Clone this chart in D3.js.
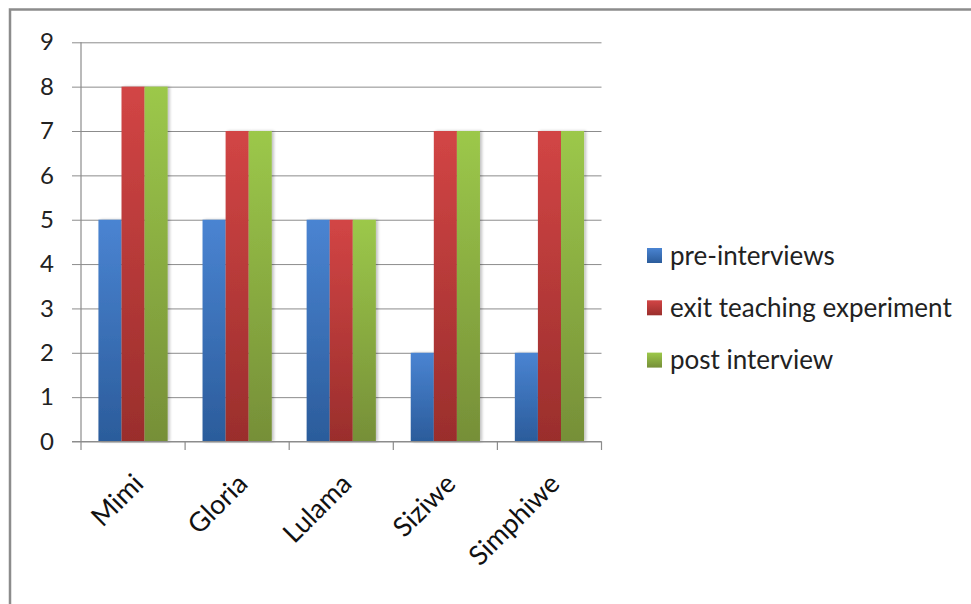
<!DOCTYPE html>
<html><head><meta charset="utf-8">
<script src="https://cdn.jsdelivr.net/npm/d3@7"></script>
<style>body{margin:0;background:#fff;}svg{display:block;}</style>
</head><body>
<svg id="chart" width="971" height="604"></svg>
<script>
const categories = ["Mimi", "Gloria", "Lulama", "Siziwe", "Simphiwe"];
const seriesNames = ["pre-interviews", "exit teaching experiment", "post interview"];
const preInterviews = [5, 5, 5, 2, 2];
const exitTeaching = [8, 7, 5, 7, 7];
const postInterview = [8, 7, 5, 7, 7];
const yTicks = [0, 1, 2, 3, 4, 5, 6, 7, 8, 9];
const colorsTop = ["#4a84d2", "#d24545", "#9cc84a"];
const colorsBottom = ["#2b5c9b", "#9a2e2c", "#768f38"];

const seriesValues = [preInterviews, exitTeaching, postInterview];
const svg = d3.select("#chart");
const font = "Lato, 'Open Sans', sans-serif";

// outer border
svg.append("rect").attr("x", 10).attr("y", 9.5).attr("width", 980).attr("height", 620)
  .attr("fill", "none").attr("stroke", "#8c8c8c").attr("stroke-width", 2.5);

const x0 = 81, x1 = 601.5, yBase = 441.5, yTop = 42.3;
const x = d3.scaleBand().domain(categories).range([x0, x1]).paddingInner(0.335).paddingOuter(0.1675);
const xs = d3.scaleBand().domain(seriesNames).range([0, x.bandwidth()]);
const y = d3.scaleLinear().domain([0, 9]).range([yBase, yTop]);

const defs = svg.append("defs");
seriesNames.forEach((s, i) => {
  const g = defs.append("linearGradient").attr("id", "g" + i).attr("x1", 0).attr("y1", 0).attr("x2", 0).attr("y2", 1);
  g.append("stop").attr("offset", "0%").attr("stop-color", colorsTop[i]);
  g.append("stop").attr("offset", "100%").attr("stop-color", colorsBottom[i]);
});
defs.append("filter").attr("id", "sh").attr("x", "-20%").attr("y", "-5%").attr("width", "150%").attr("height", "110%")
  .html('<feGaussianBlur in="SourceAlpha" stdDeviation="1.5"/><feOffset dx="2" dy="0" result="b"/><feComponentTransfer><feFuncA type="linear" slope="0.25"/></feComponentTransfer><feMerge><feMergeNode/><feMergeNode in="SourceGraphic"/></feMerge>');

// gridlines
const yAxis = d3.axisLeft(y).tickValues(yTicks).tickSize(-(x1 - x0)).tickPadding(27).tickFormat(d3.format("d"));
const ga = svg.append("g").attr("transform", `translate(${x0},0)`).call(yAxis);
ga.select(".domain").remove();
ga.selectAll(".tick line").attr("stroke", "#8c8c8c").attr("stroke-width", 1).attr("x1", -9).attr("x2", x1 - x0);
ga.selectAll(".tick text").attr("font-family", font).attr("font-size", 24).attr("fill", "#222");

// y axis line
svg.append("line").attr("x1", x0).attr("x2", x0).attr("y1", yTop).attr("y2", yBase)
  .attr("stroke", "#8c8c8c").attr("stroke-width", 1.2);

// bars
seriesNames.forEach((s, i) => {
  svg.append("g").selectAll("rect").data(categories).join("rect")
    .attr("x", c => x(c) + xs(s))
    .attr("y", (c, j) => y(seriesValues[i][j]))
    .attr("width", xs.bandwidth())
    .attr("height", (c, j) => yBase - y(seriesValues[i][j]))
    .attr("fill", `url(#g${i})`)
    .attr("filter", "url(#sh)");
});

// x axis
const xAxisLine = svg.append("g");
xAxisLine.append("line").attr("x1", x0 - 9).attr("x2", x1).attr("y1", yBase).attr("y2", yBase)
  .attr("stroke", "#8c8c8c").attr("stroke-width", 1.2);
const boundaries = categories.map(c => x(c) - x.step() * x.paddingInner() / 2).concat([x1]);
xAxisLine.selectAll("line.t").data(boundaries).join("line").attr("class", "t")
  .attr("x1", d => d).attr("x2", d => d).attr("y1", yBase).attr("y2", yBase + 8.5)
  .attr("stroke", "#8c8c8c").attr("stroke-width", 1.2);

svg.append("g").selectAll("text").data(categories).join("text")
  .attr("transform", c => `translate(${x(c) + x.bandwidth() / 2 + 12},${yBase + 44}) rotate(-45)`)
  .attr("text-anchor", "end")
  .attr("font-family", font).attr("font-size", 27).attr("fill", "#111")
  .text(c => c);

// legend
const legend = svg.append("g").selectAll("g").data(seriesNames).join("g")
  .attr("transform", (d, i) => `translate(647,${255.5 + i * 52.3})`);
legend.append("rect").attr("x", 0).attr("y", -7.5).attr("width", 15).attr("height", 15)
  .attr("fill", (d, i) => `url(#g${i})`);
legend.append("text").attr("x", 23).attr("y", 0).attr("dy", "0.35em")
  .attr("font-family", font).attr("font-size", 26).attr("fill", "#222").text(d => d);
</script>
</body></html>
